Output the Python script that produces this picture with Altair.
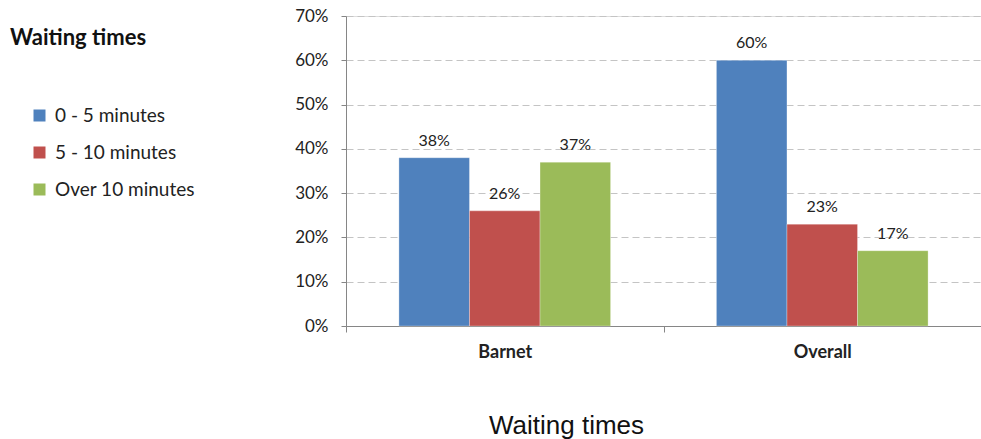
import altair as alt
import pandas as pd

# Share of patients by waiting time band
areas = ["Barnet", "Overall"]
bands = ["0 - 5 minutes", "5 - 10 minutes", "Over 10 minutes"]
barnet_share = [0.38, 0.26, 0.37]
overall_share = [0.60, 0.23, 0.17]
band_colors = ["#4F81BD", "#C0504D", "#9BBB59"]

rows = []
for area, shares in zip(areas, [barnet_share, overall_share]):
    for band, share in zip(bands, shares):
        rows.append({"area": area, "band": band, "share": share})
df = pd.DataFrame(rows)

base = alt.Chart(df).encode(
    x=alt.X(
        "area:N",
        sort=areas,
        scale=alt.Scale(paddingInner=0, paddingOuter=0),
        axis=alt.Axis(
            title=None,
            tickBand="extent",
            tickSize=6,
            tickColor="#868686",
            domainColor="#868686",
            labelFont="Lato",
            labelFontWeight="bold",
            labelFontSize=18,
            labelColor="#222222",
            labelPadding=11,
            labelAngle=0,
            grid=False,
        ),
    ),
    xOffset=alt.XOffset(
        "band:N", sort=bands, scale=alt.Scale(paddingInner=0, paddingOuter=0.75)
    ),
    y=alt.Y(
        "share:Q",
        scale=alt.Scale(domain=[0, 0.7], nice=False),
        axis=alt.Axis(
            title=None,
            format=".0%",
            values=[0, 0.1, 0.2, 0.3, 0.4, 0.5, 0.6, 0.7],
            tickSize=5,
            tickColor="#868686",
            domainColor="#868686",
            labelFont="Lato",
            labelFontSize=17,
            labelColor="#222222",
            labelPadding=13,
            gridDash=[7, 4],
            gridColor="#c4c4c4",
            gridWidth=1,
        ),
    ),
)

bars = base.mark_bar(stroke="white", strokeWidth=0.5, strokeOpacity=0.6).encode(
    color=alt.Color(
        "band:N",
        sort=bands,
        scale=alt.Scale(domain=bands, range=band_colors),
        legend=alt.Legend(
            title="Waiting times",
            orient="none",
            legendX=-336,
            legendY=12,
            titleFont="Lato",
            titleFontSize=22,
            titleFontWeight="bold",
            titleColor="#111111",
            titlePadding=56,
            symbolType="square",
            symbolSize=144,
            symbolStrokeWidth=0,
            symbolOffset=20,
            labelFont="Lato",
            labelFontSize=19,
            labelColor="#222222",
            labelOffset=6,
            rowPadding=17,
        ),
    )
)

labels = base.mark_text(
    baseline="bottom", dy=-9, font="Lato", fontSize=16, color="#222222"
).encode(text=alt.Text("share:Q", format=".0%"))

chart = (
    alt.layer(bars, labels)
    .properties(
        width=635,
        height=310,
        autosize=alt.AutoSizeParams(type="none"),
        padding={"left": 346, "top": 16, "right": 0, "bottom": 113},
        title=alt.TitleParams(
            "Waiting times",
            orient="bottom",
            anchor="start",
            frame="group",
            dx=143,
            offset=52,
            font="Liberation Sans",
            fontSize=26,
            fontWeight="normal",
            color="#111111",
        ),
    )
    .configure_view(stroke=None)
    .configure(background="white")
)

chart.save("out.html", embed_options={"renderer": "svg", "actions": False})
